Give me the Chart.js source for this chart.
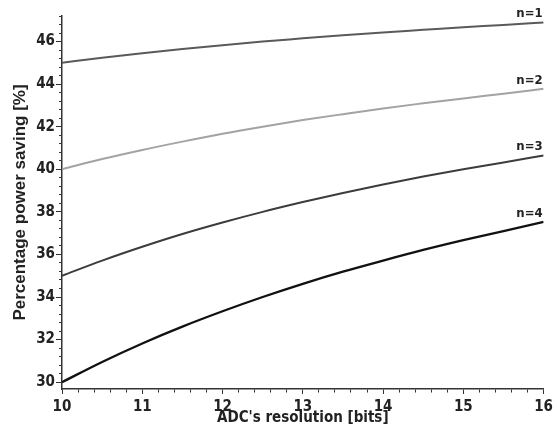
<!DOCTYPE html>
<html>
<head>
<meta charset="utf-8">
<script src="https://cdn.jsdelivr.net/npm/chart.js@4/dist/chart.umd.min.js"></script>
<style>
  html, body { margin: 0; padding: 0; background: #fff; }
  #wrap { width: 557px; height: 437px; }
</style>
</head>
<body>
<div id="wrap"><canvas id="canvas" width="557" height="437"></canvas></div>
<script>
// ADC resolution in bits
var resolution = [10, 10.5, 11, 11.5, 12, 12.5, 13, 13.5, 14, 14.5, 15, 15.5, 16];

// percentage power saving, one list per n
var savingN1 = [45.00, 45.24, 45.45, 45.65, 45.83, 46.00, 46.15, 46.30, 46.43, 46.55, 46.67, 46.78, 46.90];
var savingN2 = [40.00, 40.48, 40.91, 41.30, 41.67, 42.00, 42.31, 42.59, 42.86, 43.10, 43.33, 43.55, 43.78];
var savingN3 = [35.00, 35.71, 36.36, 36.96, 37.50, 38.00, 38.46, 38.89, 39.29, 39.66, 40.00, 40.32, 40.65];
var savingN4 = [30.00, 30.95, 31.82, 32.61, 33.33, 34.00, 34.62, 35.19, 35.71, 36.21, 36.67, 37.10, 37.53];

var seriesLabels = ["n=1", "n=2", "n=3", "n=4"];
var seriesColors = ["#5a5a5a", "#a3a3a3", "#3c3c3c", "#111111"];

var narrow = '"DejaVu Sans Condensed", "DejaVu Sans", sans-serif';

function toPoints(values) {
  return values.map(function(v, i) { return {x: resolution[i], y: v}; });
}

function isWhole(v, step) {
  var q = v / step;
  return Math.abs(q - Math.round(q)) < 1e-6;
}

// write "n=..." just above the right end of each curve
var endLabels = {
  id: "endLabels",
  afterDatasetsDraw: function(chart) {
    var ctx = chart.ctx;
    ctx.save();
    ctx.font = "bold 13px " + narrow;
    ctx.fillStyle = "#222";
    ctx.textAlign = "right";
    ctx.textBaseline = "bottom";
    chart.data.datasets.forEach(function(ds, i) {
      var pts = chart.getDatasetMeta(i).data;
      var last = pts[pts.length - 1];
      ctx.fillText(ds.label, last.x - 1, last.y - 2);
    });
    ctx.restore();
  }
};

var datasets = [savingN1, savingN2, savingN3, savingN4].map(function(vals, i) {
  return {
    label: seriesLabels[i],
    data: toPoints(vals),
    borderColor: seriesColors[i],
    borderWidth: i == 3 ? 2.3 : 2,
    pointRadius: 0,
    cubicInterpolationMode: "monotone",
    fill: false
  };
});

new Chart(document.getElementById("canvas").getContext("2d"), {
  type: "line",
  data: { datasets: datasets },
  plugins: [endLabels],
  options: {
    responsive: false,
    animation: false,
    layout: { padding: { top: 16, right: 12, left: 0, bottom: 0 } },
    plugins: { legend: { display: false }, tooltip: { enabled: false } },
    scales: {
      x: {
        type: "linear",
        min: 10,
        max: 16,
        afterFit: function(scale) { scale.height = 48; },
        border: { display: true, color: "#333", width: 1.5 },
        grid: {
          drawOnChartArea: false,
          drawTicks: true,
          tickLength: 5,
          tickColor: "#333",
          tickWidth: 1,
          tickBorderDash: function(c) { return isWhole(c.tick.value, 1) ? [] : [3, 100]; }
        },
        ticks: {
          stepSize: 0.2,
          autoSkip: false,
          maxRotation: 0,
          padding: 4,
          color: "#222",
          font: { family: narrow, size: 15, weight: "bold" },
          callback: function(v) { return isWhole(v, 1) ? String(Math.round(v)) : ""; }
        },
        title: {
          display: true,
          text: "ADC's resolution [bits]",
          color: "#222",
          font: { family: narrow, size: 15, weight: "bold" },
          padding: { top: 0, bottom: 10 }
        }
      },
      y: {
        type: "linear",
        min: 29.68,
        max: 47.2,
        afterFit: function(scale) { scale.width = 62; },
        afterBuildTicks: function(scale) {
          scale.ticks = scale.ticks.filter(function(t) { return t.value > 29.9 && t.value < 47.3; });
        },
        border: { display: true, color: "#333", width: 1.5 },
        grid: {
          drawOnChartArea: false,
          drawTicks: true,
          tickLength: 6,
          tickColor: "#333",
          tickWidth: 1,
          tickBorderDash: function(c) { return isWhole(c.tick.value, 2) ? [] : [0, 3, 3, 100]; }
        },
        ticks: {
          stepSize: 0.4,
          includeBounds: false,
          autoSkip: false,
          padding: 1,
          color: "#222",
          font: { family: narrow, size: 15, weight: "bold" },
          callback: function(v) { return isWhole(v, 2) ? String(Math.round(v)) : ""; }
        },
        title: {
          display: true,
          text: "Percentage power saving [%]",
          color: "#222",
          font: { family: '"Liberation Sans", Arial, sans-serif', size: 17, weight: "bold" },
          padding: { top: 10, bottom: 0 }
        }
      }
    }
  }
});
</script>
</body>
</html>
